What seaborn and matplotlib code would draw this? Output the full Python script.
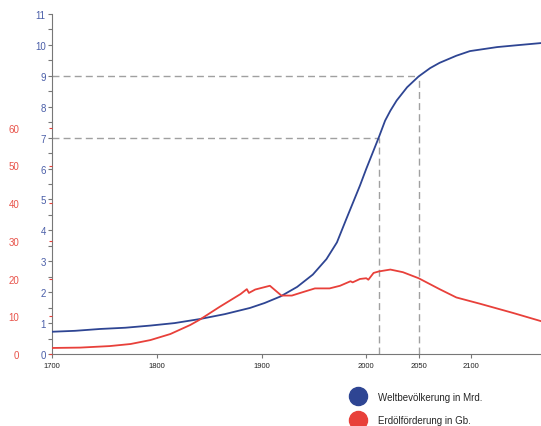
import matplotlib
matplotlib.use("Agg")
import matplotlib.pyplot as plt
from matplotlib.lines import Line2D
import seaborn as sns
import pandas as pd
import numpy as np

# population (Mrd.)
pop_years = [1700, 1722, 1746, 1770, 1794, 1817, 1841, 1865, 1889, 1903, 1918,
             1934, 1949, 1962, 1972, 1981, 1994, 2000, 2012, 2018, 2023, 2029,
             2039, 2050, 2061, 2070, 2086, 2099, 2125, 2144, 2167]
pop_values = [0.72, 0.75, 0.81, 0.85, 0.92, 1.00, 1.13, 1.29, 1.49, 1.65, 1.86,
              2.17, 2.57, 3.07, 3.61, 4.37, 5.45, 5.99, 7.01, 7.55, 7.87, 8.20,
              8.63, 8.98, 9.25, 9.42, 9.65, 9.80, 9.93, 9.99, 10.06]

# oil production (Gb)
oil_years = [1700, 1727, 1755, 1775, 1794, 1813, 1832, 1841, 1860, 1880, 1886, 1888,
             1894, 1908, 1919, 1929, 1937, 1951, 1965, 1975, 1985, 1987, 1994,
             2000, 2002, 2007, 2012, 2023, 2035, 2050, 2070, 2086, 2109, 2140, 2167]
oil_values = [1.6, 1.7, 2.1, 2.65, 3.7, 5.3, 7.7, 9.1, 12.5, 15.9, 17.2, 16.2,
              17.1, 18.1, 15.5, 15.5, 16.2, 17.4, 17.4, 18.1, 19.3, 19.0, 19.9,
              20.1, 19.7, 21.5, 21.9, 22.4, 21.7, 20.1, 17.2, 15.0, 13.3, 10.9, 8.7]

# reference markers (year, population)
ref_years = [2012, 2050]
ref_pop = [7, 9]

x_ticks = [1700, 1800, 1900, 2000, 2050, 2100]
pop_ticks = list(range(0, 12))
oil_ticks = list(range(0, 70, 10))

BLUE = "#2e4593"
RED = "#e8403a"
GREY = "#a0a0a0"

df_pop = pd.DataFrame({"year": pop_years, "value": pop_values})
df_oil = pd.DataFrame({"year": oil_years, "value": oil_values})

sns.set_style("ticks")
plt.rcParams["font.family"] = ["Liberation Sans", "DejaVu Sans"]

fig = plt.figure(figsize=(5.41, 4.27), dpi=100)
ax = fig.add_axes([52 / 541, 72 / 427, 489 / 541, 340 / 427])
ax2 = ax.twinx()

# dashed guide lines
for yr, p in zip(ref_years, ref_pop):
    ax.plot([1700, yr], [p, p], color=GREY, linestyle=(0, (5, 3)), linewidth=1.0, zorder=1)
    ax.plot([yr, yr], [0, p], color=GREY, linestyle=(0, (5, 3)), linewidth=1.0, zorder=1)

sns.lineplot(data=df_pop, x="year", y="value", color=BLUE, linewidth=1.3, ax=ax, zorder=3)
sns.lineplot(data=df_oil, x="year", y="value", color=RED, linewidth=1.3, ax=ax2, zorder=3)

ax.set_xlim(1700, 1700 + 489 / 1.0475)
ax.set_ylim(0, 11)
ax2.set_ylim(0, 340 / 3.77)

ax.set_xticks(x_ticks)
ax.set_xticklabels([str(x) for x in x_ticks])
ax.set_yticks(pop_ticks)
ax.set_yticks(np.arange(0.5, 11, 1), minor=True)
ax.tick_params(axis="y", which="major", length=3, width=0.8, color="#777777",
               labelsize=7, labelcolor="#4a5ea8", pad=1.5)
ax.tick_params(axis="y", which="minor", length=3, width=0.8, color="#777777")
ax.tick_params(axis="x", length=3, width=0.8, color="#777777", labelsize=5.5,
               labelcolor="#222222", pad=3)
ax.set_xlabel("")
ax.set_ylabel("")

ax2.set_yticks(oil_ticks)
ax2.yaxis.set_ticks_position("left")
ax2.yaxis.set_label_position("left")
ax2.tick_params(axis="y", length=2.5, width=0.8, color=RED, labelsize=7,
                labelcolor="#e8534a", pad=21)
ax2.set_ylabel("")
for s in ax2.spines.values():
    s.set_visible(False)

sns.despine(ax=ax)
ax.spines["left"].set_color("#777777")
ax.spines["bottom"].set_color("#777777")
ax.spines["left"].set_linewidth(0.8)
ax.spines["bottom"].set_linewidth(0.8)

handles = [
    Line2D([], [], marker="o", linestyle="none", markersize=13, color=BLUE),
    Line2D([], [], marker="o", linestyle="none", markersize=13, color=RED),
]
fig.legend(handles, ["Weltbevölkerung in Mrd.", "Erdölförderung in Gb."],
           loc="upper left", bbox_to_anchor=(347 / 541, 1 - 388 / 427),
           frameon=False, fontsize=7, handlelength=1.2, handletextpad=1.45,
           labelspacing=1.4, borderpad=0)

fig.savefig("out.png", dpi=100)
